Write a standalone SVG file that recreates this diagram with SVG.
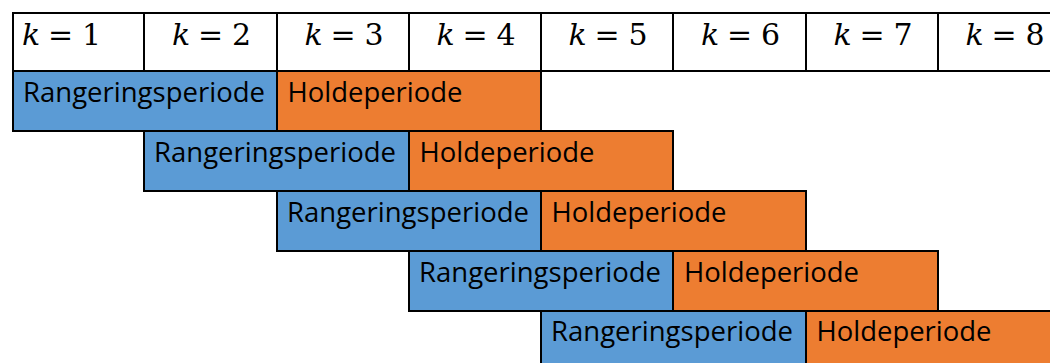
<svg xmlns="http://www.w3.org/2000/svg" width="1050" height="363" viewBox="0 0 1050 363">
<style>
.cell{fill:#ffffff;stroke:#000;stroke-width:2}
.blue{fill:#5B9BD5;stroke:#000;stroke-width:2}
.orange{fill:#ED7D31;stroke:#000;stroke-width:2}
.k{font-family:"DejaVu Serif","Liberation Serif",serif;font-size:30px;fill:#000}
.kv{font-style:italic}
.lbl{font-family:"Open Sans","Liberation Sans",sans-serif;font-size:28px;fill:#000}
</style>
<rect width="1050" height="363" fill="#ffffff"/>
<g id="header">
<g id="h1"><rect class="cell" x="13" y="13" width="131" height="58"/><text class="k" y="44.5"><tspan class="kv" x="22">k</tspan><tspan x="48">=</tspan><tspan x="82">1</tspan></text></g>
<g id="h2"><rect class="cell" x="144" y="13" width="133" height="58"/><text class="k" y="44.5"><tspan class="kv" x="172">k</tspan><tspan x="198">=</tspan><tspan x="232">2</tspan></text></g>
<g id="h3"><rect class="cell" x="277" y="13" width="132" height="58"/><text class="k" y="44.5"><tspan class="kv" x="304.5">k</tspan><tspan x="330.5">=</tspan><tspan x="364.5">3</tspan></text></g>
<g id="h4"><rect class="cell" x="409" y="13" width="132" height="58"/><text class="k" y="44.5"><tspan class="kv" x="436.5">k</tspan><tspan x="462.5">=</tspan><tspan x="496.5">4</tspan></text></g>
<g id="h5"><rect class="cell" x="541" y="13" width="132" height="58"/><text class="k" y="44.5"><tspan class="kv" x="568.5">k</tspan><tspan x="594.5">=</tspan><tspan x="628.5">5</tspan></text></g>
<g id="h6"><rect class="cell" x="673" y="13" width="133" height="58"/><text class="k" y="44.5"><tspan class="kv" x="701">k</tspan><tspan x="727">=</tspan><tspan x="761">6</tspan></text></g>
<g id="h7"><rect class="cell" x="806" y="13" width="132" height="58"/><text class="k" y="44.5"><tspan class="kv" x="833.5">k</tspan><tspan x="859.5">=</tspan><tspan x="893.5">7</tspan></text></g>
<g id="h8"><rect class="cell" x="938" y="13" width="140" height="58"/><text class="k" y="44.5"><tspan class="kv" x="965.5">k</tspan><tspan x="991.5">=</tspan><tspan x="1025.5">8</tspan></text></g>
</g>
<g id="row1">
<g id="r1"><rect class="blue" x="13" y="71" width="264" height="60"/><text class="lbl" x="23" y="102" textLength="242" lengthAdjust="spacingAndGlyphs">Rangeringsperiode</text></g>
<g id="h1p"><rect class="orange" x="277" y="71" width="264" height="60"/><text class="lbl" x="287.5" y="102" textLength="175" lengthAdjust="spacingAndGlyphs">Holdeperiode</text></g>
</g>
<g id="row2">
<g id="r2"><rect class="blue" x="144" y="131" width="265" height="60"/><text class="lbl" x="154" y="162" textLength="242" lengthAdjust="spacingAndGlyphs">Rangeringsperiode</text></g>
<g id="h2p"><rect class="orange" x="409" y="131" width="264" height="60"/><text class="lbl" x="419.5" y="162" textLength="175" lengthAdjust="spacingAndGlyphs">Holdeperiode</text></g>
</g>
<g id="row3">
<g id="r3"><rect class="blue" x="277" y="191" width="264" height="60"/><text class="lbl" x="287" y="222" textLength="242" lengthAdjust="spacingAndGlyphs">Rangeringsperiode</text></g>
<g id="h3p"><rect class="orange" x="541" y="191" width="265" height="60"/><text class="lbl" x="551.5" y="222" textLength="175" lengthAdjust="spacingAndGlyphs">Holdeperiode</text></g>
</g>
<g id="row4">
<g id="r4"><rect class="blue" x="409" y="251" width="264" height="60"/><text class="lbl" x="419" y="282" textLength="242" lengthAdjust="spacingAndGlyphs">Rangeringsperiode</text></g>
<g id="h4p"><rect class="orange" x="673" y="251" width="265" height="60"/><text class="lbl" x="684" y="282" textLength="175" lengthAdjust="spacingAndGlyphs">Holdeperiode</text></g>
</g>
<g id="row5">
<g id="r5"><rect class="blue" x="541" y="311" width="265" height="70"/><text class="lbl" x="551" y="341" textLength="242" lengthAdjust="spacingAndGlyphs">Rangeringsperiode</text></g>
<g id="h5p"><rect class="orange" x="806" y="311" width="270" height="70"/><text class="lbl" x="816.5" y="341" textLength="175" lengthAdjust="spacingAndGlyphs">Holdeperiode</text></g>
</g>
<g id="connectors"></g>
</svg>
